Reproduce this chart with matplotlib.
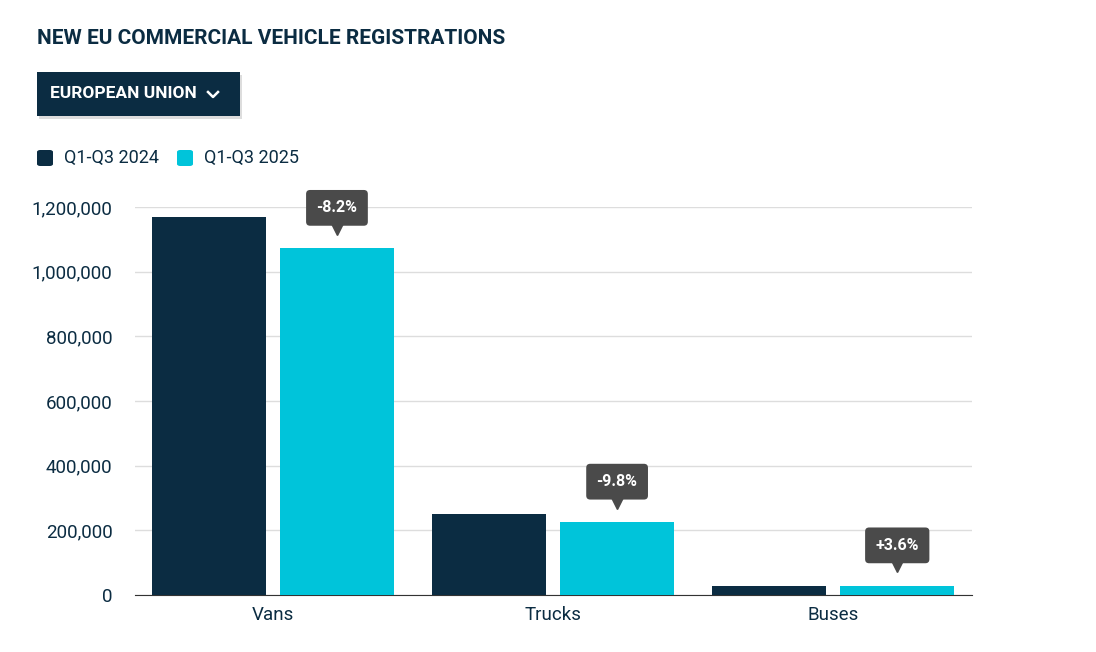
import matplotlib.pyplot as plt
from matplotlib.patches import FancyBboxPatch
import matplotlib.transforms as mtrans
import numpy as np

categories = ["Vans", "Trucks", "Buses"]
values_2024 = [1169000, 250500, 28000]
values_2025 = [1073000, 226000, 29000]
changes = ["-8.2%", "-9.8%", "+3.6%"]
series_names = ["Q1-Q3 2024", "Q1-Q3 2025"]

dark = "#0b2c42"
cyan = "#00c4da"
txt = "#0b2c42"
plt.rcParams['font.family'] = ['Roboto', 'DejaVu Sans']

fig = plt.figure(figsize=(10.96, 6.52), dpi=100)
ax = fig.add_axes([0.123, 0.0874, 0.764, 0.595])

x = np.arange(len(categories))
w = 0.407
off = 0.2286
ax.bar(x - off, values_2024, w, color=dark, zorder=3)
ax.bar(x + off, values_2025, w, color=cyan, zorder=3)

ax.set_xlim(-0.493, 2.496)
ax.set_ylim(0, 1.2e6)
ax.set_yticks(np.arange(0, 1.2e6 + 1, 2e5))
ax.set_yticklabels([f"{int(v):,}" for v in np.arange(0, 1.2e6 + 1, 2e5)])
ax.set_xticks(x)
ax.set_xticklabels(categories)
ax.tick_params(axis='both', length=0, labelsize=13.5, colors=txt)
ax.tick_params(axis='y', pad=16)
ax.tick_params(axis='x', pad=8)
ax.grid(axis='y', color='#dddddd', lw=1, zorder=0)
for s in ['top', 'right', 'left']:
    ax.spines[s].set_visible(False)
ax.spines['bottom'].set_color('#333333')
ax.set_axisbelow(True)

# change labels
shift = ax.transData + mtrans.ScaledTranslation(0, 14 / 72, fig.dpi_scale_trans)
for xi, v, c in zip(x, values_2025, changes):
    ax.annotate(c, (xi + off, v), xytext=(0, 29), textcoords='offset points',
                ha='center', va='center', color='white', fontsize=11.5, fontweight='bold',
                bbox=dict(boxstyle='round,pad=0.65,rounding_size=0.25', fc='#4a4a4a', ec='none'),
                annotation_clip=False, zorder=5)
    ax.plot([xi + off], [v], marker='v', ms=8, color='#4a4a4a',
            transform=shift, clip_on=False, zorder=5)

# title
fig.text(37 / 1096, 1 - 38 / 652, "NEW EU COMMERCIAL VEHICLE REGISTRATIONS", fontsize=15,
         fontweight='bold', color=txt, va='center', ha='left')

# dropdown
shadow = FancyBboxPatch((39 / 1096, 1 - 119 / 652), 203 / 1096, 44 / 652, boxstyle='square,pad=0',
                        transform=fig.transFigure, fc='#00000022', ec='none')
fig.patches.append(shadow)
box = FancyBboxPatch((37 / 1096, 1 - 116 / 652), 203 / 1096, 44 / 652, boxstyle='square,pad=0',
                     transform=fig.transFigure, fc=dark, ec='none')
fig.patches.append(box)
fig.text(50 / 1096, 1 - 94 / 652, "EUROPEAN UNION", fontsize=12.5, fontweight='bold',
         color='white', va='center', ha='left')
fig.lines.append(plt.Line2D([208 / 1096, 213 / 1096, 218 / 1096],
                            [1 - 92 / 652, 1 - 97 / 652, 1 - 92 / 652],
                            transform=fig.transFigure, color='white', lw=1.8))

# legend
for i, (name, col) in enumerate(zip(series_names, [dark, cyan])):
    x0 = [37, 177][i]
    fig.patches.append(FancyBboxPatch((x0 / 1096, 1 - 166 / 652), 16 / 1096, 16 / 652,
                                      boxstyle='round,pad=0,rounding_size=0.003',
                                      transform=fig.transFigure, fc=col, ec='none'))
    fig.text((x0 + 27) / 1096, 1 - 158 / 652, name, fontsize=13, color=txt, va='center', ha='left')

fig.savefig("out.png", dpi=100)
